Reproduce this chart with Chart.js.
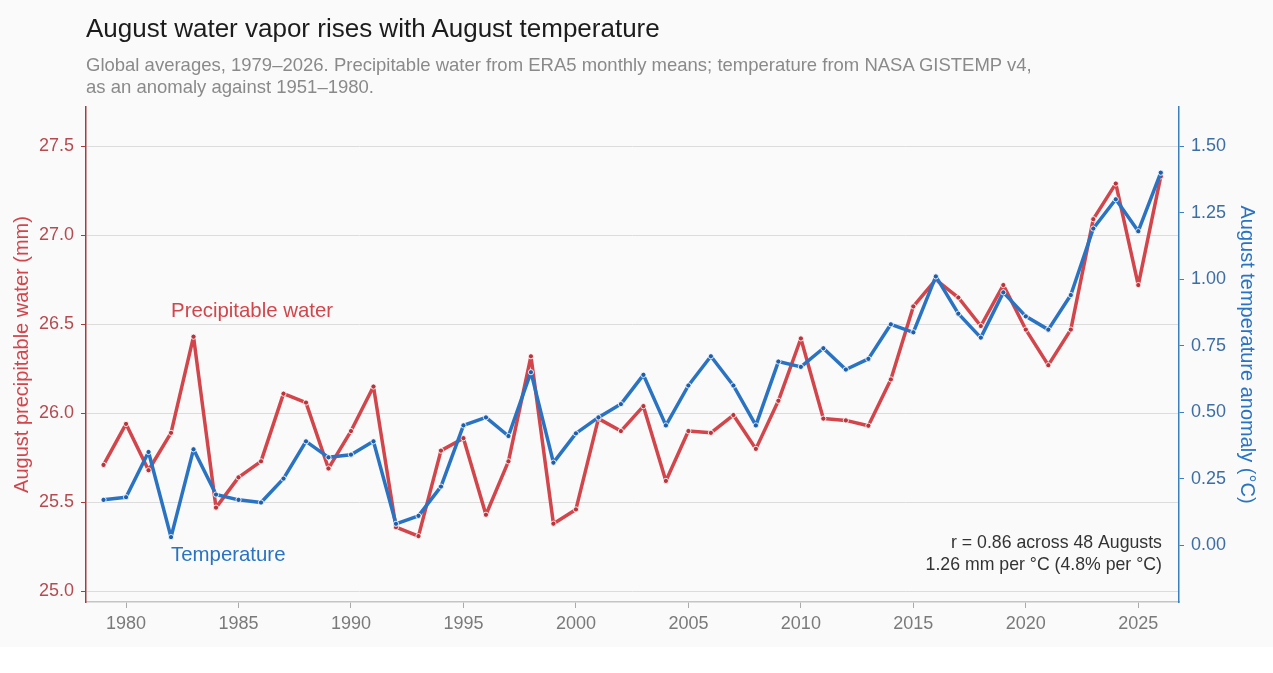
<!DOCTYPE html>
<html>
<head>
<meta charset="utf-8">
<script src="https://cdn.jsdelivr.net/npm/chart.js@4.4.1/dist/chart.umd.min.js"></script>
<style>
  html, body { margin: 0; padding: 0; background: #fff; }
  #wrap { position: relative; width: 1273px; height: 647px; background: #fafafa; font-family: "Liberation Sans", Arial, sans-serif; }
  #title { position: absolute; left: 86px; top: 13px; font-size: 26px; line-height: 30px; color: #1c1c1c; white-space: nowrap; }
  #subtitle { position: absolute; left: 86px; top: 54px; font-size: 18.5px; line-height: 22px; color: #8a8a8a; white-space: nowrap; }
  #chart { position: absolute; left: 0; top: 0; }
</style>
</head>
<body>
<div id="wrap">
  <canvas id="chart" width="1273" height="647"></canvas>
  <div id="title">August water vapor rises with August temperature</div>
  <div id="subtitle">Global averages, 1979–2026. Precipitable water from ERA5 monthly means; temperature from NASA GISTEMP v4,<br>as an anomaly against 1951–1980.</div>
</div>
<script>
/* ---------- data ---------- */
const years = [1979, 1980, 1981, 1982, 1983, 1984, 1985, 1986, 1987, 1988, 1989, 1990,
               1991, 1992, 1993, 1994, 1995, 1996, 1997, 1998, 1999, 2000, 2001, 2002,
               2003, 2004, 2005, 2006, 2007, 2008, 2009, 2010, 2011, 2012, 2013, 2014,
               2015, 2016, 2017, 2018, 2019, 2020, 2021, 2022, 2023, 2024, 2025, 2026];

// August precipitable water (mm), ERA5
const water = [25.71, 25.94, 25.68, 25.89, 26.43, 25.47, 25.64, 25.73, 26.11, 26.06, 25.69, 25.90,
               26.15, 25.36, 25.31, 25.79, 25.86, 25.43, 25.73, 26.32, 25.38, 25.46, 25.97, 25.90,
               26.04, 25.62, 25.90, 25.89, 25.99, 25.80, 26.07, 26.42, 25.97, 25.96, 25.93, 26.19,
               26.60, 26.75, 26.65, 26.49, 26.72, 26.47, 26.27, 26.47, 27.09, 27.29, 26.72, 27.33];

// August temperature anomaly (°C), GISTEMP v4
const temp  = [0.17, 0.18, 0.35, 0.03, 0.36, 0.19, 0.17, 0.16, 0.25, 0.39, 0.33, 0.34,
               0.39, 0.08, 0.11, 0.22, 0.45, 0.48, 0.41, 0.65, 0.31, 0.42, 0.48, 0.53,
               0.64, 0.45, 0.60, 0.71, 0.60, 0.45, 0.69, 0.67, 0.74, 0.66, 0.70, 0.83,
               0.80, 1.01, 0.87, 0.78, 0.95, 0.86, 0.81, 0.94, 1.19, 1.30, 1.18, 1.40];

const xTicks     = [1980, 1985, 1990, 1995, 2000, 2005, 2010, 2015, 2020, 2025];
const waterTicks = [25.0, 25.5, 26.0, 26.5, 27.0, 27.5];
const tempTicks  = [0.00, 0.25, 0.50, 0.75, 1.00, 1.25, 1.50];

const statLines = ['r = 0.86 across 48 Augusts', '1.26 mm per °C (4.8% per °C)'];

/* ---------- styling ---------- */
const FONT   = '"Liberation Sans", Arial, sans-serif';
const RED    = '#d2454b';
const RED_DK = '#b8353b';
const BLUE   = '#2a73c2';
const BLUE_DK= '#1f5ea8';

/* ---------- in-chart labels ---------- */
const labelPlugin = {
  id: 'labels',
  afterDatasetsDraw(chart) {
    const { ctx, scales } = chart;
    const x = scales.x, yl = scales.y, yr = scales.y1;
    ctx.save();
    ctx.textBaseline = 'middle';
    ctx.font = '20.4px ' + FONT;
    ctx.textAlign = 'left';
    ctx.fillStyle = RED;
    ctx.fillText('Precipitable water', x.getPixelForValue(1982), yl.getPixelForValue(26.57));
    ctx.fillStyle = BLUE;
    ctx.fillText('Temperature', x.getPixelForValue(1982), yr.getPixelForValue(-0.04));

    ctx.font = '17.7px ' + FONT;
    ctx.textAlign = 'right';
    ctx.fillStyle = '#333';
    const rx = x.getPixelForValue(2026.05);
    ctx.fillText(statLines[0], rx, yr.getPixelForValue(0.0075));
    ctx.fillText(statLines[1], rx, yr.getPixelForValue(-0.075));
    ctx.restore();
  }
};

const lineStyle = {
  borderWidth: 3.5,
  borderJoinStyle: 'round',
  borderCapStyle: 'round',
  pointRadius: 2.6,
  pointBorderColor: 'rgba(255,255,255,0.85)',
  pointBorderWidth: 1,
  tension: 0,
};

new Chart(document.getElementById('chart'), {
  type: 'line',
  data: {
    datasets: [
      {
        ...lineStyle,
        label: 'Temperature',
        data: years.map((yr, i) => ({ x: yr, y: temp[i] })),
        yAxisID: 'y1',
        order: 0,
        borderColor: BLUE,
        pointBackgroundColor: BLUE_DK,
      },
      {
        ...lineStyle,
        label: 'Precipitable water',
        data: years.map((yr, i) => ({ x: yr, y: water[i] })),
        yAxisID: 'y',
        order: 1,
        borderColor: RED,
        pointBackgroundColor: RED_DK,
      },
    ],
  },
  options: {
    responsive: false,
    animation: false,
    layout: { padding: { top: 107, left: 0, right: 0, bottom: 0 } },
    plugins: { legend: { display: false }, tooltip: { enabled: false } },
    scales: {
      x: {
        type: 'linear',
        min: 1978.22,
        max: 2026.81,
        afterBuildTicks: s => { s.ticks = xTicks.map(v => ({ value: v })); },
        afterFit: s => { s.height = 45; },
        grid: { drawOnChartArea: false, tickLength: 6, tickColor: '#aaa' },
        border: { color: '#c4c4c4', width: 1.5 },
        ticks: { color: '#7a7a7a', font: { family: FONT, size: 18 }, padding: 5, callback: v => String(v) },
      },
      y: {
        position: 'left',
        min: 24.94,
        max: 27.72,
        afterBuildTicks: s => { s.ticks = waterTicks.map(v => ({ value: v })); },
        afterFit: s => { s.width = 86; },
        grid: { color: '#dcdcdc', lineWidth: 1, tickLength: 5, tickColor: '#a83a40' },
        border: { color: '#a83a40', width: 1.5 },
        ticks: { color: '#b54a50', font: { family: FONT, size: 18 }, padding: 7, callback: v => v.toFixed(1) },
        title: { display: true, text: 'August precipitable water (mm)', color: RED,
                 font: { family: FONT, size: 20 }, padding: { top: 10, bottom: 0 } },
      },
      y1: {
        position: 'right',
        min: -0.214,
        max: 1.647,
        afterBuildTicks: s => { s.ticks = tempTicks.map(v => ({ value: v })); },
        afterFit: s => { s.width = 94; },
        grid: { drawOnChartArea: false, tickLength: 5, tickColor: '#3b7fc0' },
        border: { color: '#3b7fc0', width: 1.5 },
        ticks: { color: '#3d6ea3', font: { family: FONT, size: 18 }, padding: 7, callback: v => v.toFixed(2) },
        title: { display: true, text: 'August temperature anomaly (°C)', color: BLUE,
                 font: { family: FONT, size: 20 }, padding: { top: 14, bottom: 0 } },
      },
    },
  },
  plugins: [labelPlugin],
});
</script>
</body>
</html>
